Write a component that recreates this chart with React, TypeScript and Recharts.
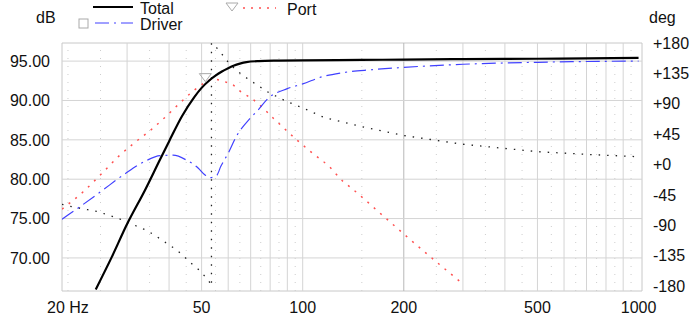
import { LineChart, Line, XAxis, YAxis, ReferenceLine, ReferenceArea, ReferenceDot } from "recharts";

// frequency response
const totalFreq = [24.2, 27, 30, 34, 37.6, 40, 43.7, 47.5, 50, 52.9, 55, 57.3, 60, 62.2, 65, 68, 74, 85, 100, 150, 200, 300, 500, 700, 1000];
const totalDb = [66.0, 70.1, 74.3, 78.7, 82.5, 84.8, 88.0, 90.4, 91.6, 92.6, 93.15, 93.65, 94.1, 94.4, 94.68, 94.88, 95.0, 95.06, 95.1, 95.15, 95.2, 95.25, 95.3, 95.35, 95.4];

const driverFreq = [19.2, 20, 21.7, 25, 29.6, 34, 37.6, 41.1, 45.2, 48.9, 51, 53, 55.5, 57, 60, 63.4, 69.6, 73.7, 78.6, 90, 100, 114, 130, 160, 200, 300, 500, 700, 1000];
const driverDb = [74.9, 75.45, 76.5, 78.4, 80.7, 82.3, 83.0, 83.05, 82.4, 81.4, 80.6, 80.2, 80.5, 81.6, 83.3, 85.4, 87.7, 88.8, 90.2, 91.5, 92.1, 93.0, 93.5, 93.9, 94.2, 94.6, 94.85, 94.95, 95.0];

const portFreq = [19.2, 22.2, 25.6, 28.3, 31.5, 35.4, 39, 42.9, 47.2, 50.4, 54.2, 58.4, 62.4, 65.5, 69.6, 73.7, 82, 96, 107, 120, 132, 138, 173, 203, 255, 300];
const portDb = [76.2, 78.4, 81.0, 82.9, 84.6, 86.3, 87.9, 89.6, 91.2, 92.1, 92.7, 92.4, 91.9, 91.1, 90.4, 89.6, 87.7, 85.0, 83.3, 81.6, 79.7, 79.05, 75.4, 72.8, 69.2, 66.7];

const phaseFreq = [19.2, 20, 22.9, 24.6, 26.4, 28.3, 32.3, 34.6, 36.8, 41.4, 43.9, 46.1, 48.6, 51.1, 52.5, 53.5, 53.5, 54.6, 57, 59.3, 62.3, 65.5, 70, 79, 89, 102, 116, 124, 150, 200, 300, 500, 700, 1000];
const phaseDeg = [-59, -61.3, -67, -70, -75, -80, -92, -98.5, -107, -124, -134, -144.6, -154, -165.4, -172, -180, 180, 176.7, 166, 154.4, 143.5, 134, 124, 107, 94, 82, 69.5, 66, 56, 43, 30, 19, 15, 11.5];

const xTicks = [20, 50, 100, 200, 500, 1000];
const dbTicks = [70, 75, 80, 85, 90, 95];
const degTicks = [-180, -135, -90, -45, 0, 45, 90, 135, 180];
const majorFreqLines = [30, 40, 50, 60, 70, 80, 90, 100, 200, 300, 400, 500, 600, 700, 800, 900];
const minorFreqLines = [20, 25, 35, 45, 55, 65, 75, 85, 95, 150, 250, 350, 450, 550, 650, 750, 850, 950];

const zip = (fs: number[], vs: number[]) => fs.map((f, i) => ({ f, v: vs[i] }));
const totalData = zip(totalFreq, totalDb);
const driverData = zip(driverFreq, driverDb);
const portData = zip(portFreq, portDb);
const phaseData = zip(phaseFreq, phaseDeg);

const FONT = "'Liberation Sans', Arial, sans-serif";
const X_DOMAIN = [19.2, 1024];
const DB_DOMAIN = [65.8, 97.3];
const DEG_DOMAIN = [-187.4, 180];

const fmtDeg = (v: number) => (v >= 0 ? `+${v}` : `${v}`);

const Triangle = (props: any) => {
  const { cx, cy } = props;
  return (
    <path
      d={`M${cx - 6},${cy - 4} L${cx + 6},${cy - 4} L${cx},${cy + 4} Z`}
      fill="none"
      stroke="#aaa"
      strokeWidth={1}
    />
  );
};

const Legend = () => (
  <svg width={700} height={40} style={{ position: "absolute", left: 0, top: 0 }} fontFamily={FONT} fontSize={16}>
    <text x={36} y={23} fill="#111">dB</text>
    <line x1={93} y1={7} x2={133} y2={7} stroke="#000" strokeWidth={2} />
    <text x={140} y={14} fill="#111">Total</text>
    <rect x={79} y={19} width={9} height={9} fill="none" stroke="#aaa" />
    <line x1={95} y1={23} x2={133} y2={23} stroke="#4040ff" strokeDasharray="14 5 2 5" />
    <text x={140} y={30} fill="#111">Driver</text>
    <path d="M226,3 L238,3 L232,11 Z" fill="none" stroke="#aaa" />
    <line x1={243} y1={8} x2={276} y2={8} stroke="#ff5050" strokeWidth={1.5} strokeDasharray="2 6" />
    <text x={287} y={15} fill="#111">Port</text>
    <text x={649} y={23} fill="#111">deg</text>
  </svg>
);

export default function App() {
  return (
    <div style={{ position: "absolute", left: 0, top: 0, width: 700, height: 326, background: "#fff" }}>
      <LineChart width={700} height={326} margin={{ top: 43, right: 0, bottom: 0, left: 0 }}>
        <XAxis
          dataKey="f"
          type="number"
          scale="log"
          domain={X_DOMAIN}
          allowDataOverflow
          ticks={xTicks}
          tickFormatter={(v) => (v === 20 ? "20 Hz" : String(v))}
          axisLine={false}
          tickLine={false}
          tickMargin={5}
          height={35}
          tick={{ fill: "#111", fontSize: 16, fontFamily: FONT }}
        />
        <YAxis
          yAxisId="db"
          type="number"
          domain={DB_DOMAIN}
          allowDataOverflow
          ticks={dbTicks}
          tickFormatter={(v) => v.toFixed(2)}
          axisLine={false}
          tickLine={false}
          tickMargin={6}
          width={62}
          tick={{ fill: "#111", fontSize: 16, fontFamily: FONT }}
        />
        <YAxis
          yAxisId="deg"
          orientation="right"
          type="number"
          domain={DEG_DOMAIN}
          allowDataOverflow
          ticks={degTicks}
          tickFormatter={fmtDeg}
          axisLine={false}
          tickLine={false}
          tickMargin={5}
          width={58}
          tick={{ fill: "#111", fontSize: 16, fontFamily: FONT, textAnchor: "start" }}
        />

        {minorFreqLines.map((f) => (
          <ReferenceLine key={`mn-${f}`} yAxisId="db" x={f} stroke="#cdcdcd" strokeDasharray="1 7" />
        ))}
        {majorFreqLines.map((f) => (
          <ReferenceLine key={`mj-${f}`} yAxisId="db" x={f} stroke={f === 200 ? "#b8b8b8" : "#d4d4d4"} />
        ))}
        {dbTicks.map((d) => (
          <ReferenceLine key={`h-${d}`} yAxisId="db" y={d} stroke="#d4d4d4" />
        ))}
        <ReferenceArea
          yAxisId="db"
          x1={X_DOMAIN[0]}
          x2={X_DOMAIN[1]}
          y1={DB_DOMAIN[0]}
          y2={DB_DOMAIN[1]}
          fill="none"
          stroke="#c8c8c8"
        />

        <Line
          yAxisId="deg"
          data={phaseData}
          dataKey="v"
          type="linear"
          stroke="#222"
          strokeWidth={1.3}
          strokeDasharray="1.5 7"
          dot={false}
          isAnimationActive={false}
        />
        <Line
          yAxisId="db"
          data={portData}
          dataKey="v"
          type="monotone"
          stroke="#ff5050"
          strokeWidth={1.5}
          strokeDasharray="2 6.5"
          dot={false}
          isAnimationActive={false}
        />
        <Line
          yAxisId="db"
          data={driverData}
          dataKey="v"
          type="monotone"
          stroke="#4040ff"
          strokeWidth={1.2}
          strokeDasharray="14 5 2 5"
          dot={false}
          isAnimationActive={false}
        />
        <Line
          yAxisId="db"
          data={totalData}
          dataKey="v"
          type="monotone"
          stroke="#000"
          strokeWidth={2.2}
          dot={false}
          isAnimationActive={false}
        />
        <ReferenceDot yAxisId="db" x={51.3} y={92.9} shape={Triangle} />
      </LineChart>
      <Legend />
    </div>
  );
}
